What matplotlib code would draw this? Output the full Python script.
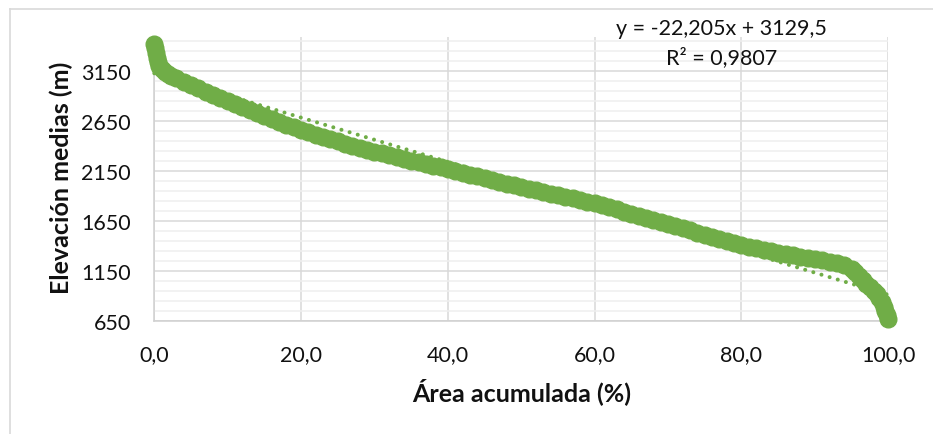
import matplotlib
matplotlib.use("Agg")
import matplotlib.pyplot as plt
from matplotlib.ticker import MultipleLocator, FixedLocator, FuncFormatter
from matplotlib.lines import Line2D

# ---- data ----
area_pct = [0, 0.1, 0.2, 0.35, 0.5, 0.7, 1.0, 1.4, 1.8, 2.3,
            3, 4, 5, 6, 7, 8, 9, 10, 11, 12, 13, 14, 15, 16, 17, 18, 19, 20,
            21, 22, 23, 24, 25, 26, 27, 28, 29, 30,
            31, 32, 33, 34, 35, 36, 37, 38, 39, 40,
            41, 42, 43, 44, 45, 46, 47, 48, 49, 50,
            51, 52, 53, 54, 55, 56, 57, 58, 59, 60,
            61, 62, 63, 64, 65, 66, 67, 68, 69, 70,
            71, 72, 73, 74, 75, 76, 77, 78, 79, 80,
            81, 82, 83, 84, 85, 86, 87, 88, 89, 90,
            91, 92, 93, 94, 95, 95.5, 96, 96.5, 97, 97.5,
            98, 98.4, 98.8, 99.1, 99.4, 99.6, 99.8, 100]
elev_m = [3425, 3380, 3330, 3280, 3240, 3205, 3172, 3145, 3124, 3103,
          3078, 3044, 3010, 2978, 2946, 2914, 2882, 2851, 2821, 2791,
          2761, 2732, 2703, 2674, 2645, 2616, 2588, 2560,
          2536, 2513, 2490, 2468, 2446, 2425, 2404, 2384, 2364, 2345,
          2326, 2307, 2289, 2271, 2253, 2236, 2219, 2203, 2187, 2172,
          2153, 2134, 2115, 2096, 2078, 2060, 2042, 2024, 2006, 1989,
          1972, 1956, 1940, 1924, 1908, 1892, 1876, 1860, 1843, 1826,
          1806, 1786, 1765, 1744, 1723, 1702, 1681, 1660, 1639, 1618,
          1597, 1576, 1555, 1533, 1510, 1490, 1470, 1450, 1430, 1411,
          1393, 1376, 1360, 1345, 1331, 1318, 1305, 1292, 1280, 1268,
          1256, 1243, 1228, 1205, 1165, 1137, 1097, 1057, 1020, 985,
          950, 915, 875, 835, 790, 750, 710, 665]

trend_slope = -22.205
trend_intercept = 3129.5
r_squared = 0.9807

x_ticks = [0, 20, 40, 60, 80, 100]
y_ticks = [650, 1150, 1650, 2150, 2650, 3150]
x_label = "Área acumulada (%)"
y_label = "Elevación medias (m)"

GREEN = "#70AD47"
FONT = ["Lato", "DejaVu Sans"]
TXT = "#111111"

plt.rcParams['font.family'] = FONT

W, H = 933, 435
fig = plt.figure(figsize=(W / 100, H / 100), dpi=100)

# outer chart frame (only top and left visible)
fig.add_artist(Line2D([10 / W, 1], [1 - 10 / H, 1 - 10 / H], color="#d9d9d9", lw=1.2))
fig.add_artist(Line2D([10 / W, 10 / W], [0, 1 - 10 / H], color="#d9d9d9", lw=1.2))

left, right = 154.3 / W, 888.3 / W
top, bottom = 1 - 38.3 / H, 1 - 321.7 / H
ax = fig.add_axes([left, bottom, right - left, top - bottom])

ax.set_xlim(0, 100)
ax.set_ylim(650, 3490)

ax.xaxis.set_major_locator(FixedLocator(x_ticks))
ax.yaxis.set_major_locator(FixedLocator(y_ticks))
ax.yaxis.set_minor_locator(MultipleLocator(100, offset=50))
ax.xaxis.set_major_formatter(FuncFormatter(lambda v, p: f"{v:.1f}".replace(".", ",")))
ax.yaxis.set_major_formatter(FuncFormatter(lambda v, p: f"{v:.0f}"))

ax.grid(which="major", axis="both", color="#d9d9d9", lw=1.1, zorder=0)
ax.grid(which="minor", axis="y", color="#efefef", lw=1.1, zorder=0)
ax.set_axisbelow(True)

for s in ["top", "right"]:
    ax.spines[s].set_visible(False)
for s in ["left", "bottom"]:
    ax.spines[s].set_color("#d0d0d0")
    ax.spines[s].set_linewidth(1.1)

ax.tick_params(which="both", length=0)
ax.tick_params(axis="y", pad=17, labelsize=15.5, labelcolor=TXT)
ax.tick_params(axis="x", pad=17, labelsize=15.5, labelcolor=TXT)

# linear trendline (dotted)
tx = [min(area_pct), max(area_pct)]
ty = [trend_slope * v + trend_intercept for v in tx]
ax.plot(tx, ty, linestyle=(0, (0.01, 2.1)), color=GREEN, lw=2.9,
        dash_capstyle="round", zorder=3, clip_on=False)

# scatter series
ax.plot(area_pct, elev_m, linestyle="none", marker="o", markersize=12,
        markerfacecolor=GREEN, markeredgecolor=GREEN, zorder=4, clip_on=False)

def fmt_num(v, nd):
    return f"{v:.{nd}f}".replace(".", ",")

eq = f"y = {fmt_num(trend_slope, 3)}x + {fmt_num(trend_intercept, 1)}"
r2 = f"R² = {fmt_num(r_squared, 4)}"
fig.text(721.7 / W, 1 - 29 / H, eq, ha="center", va="center", fontsize=15.5, color=TXT)
fig.text(721.7 / W, 1 - 58 / H, r2, ha="center", va="center", fontsize=15.5, color=TXT)

ax.set_xlabel(x_label, fontsize=18, fontweight="bold", color=TXT)
ax.set_ylabel(y_label, fontsize=18, fontweight="bold", color=TXT)
ax.xaxis.set_label_coords(0.5, -0.245)
ax.yaxis.set_label_coords(-0.127, 0.509)
ax.xaxis.label.set_va("center")
ax.yaxis.label.set_va("center")

fig.savefig("out.png", dpi=100)
